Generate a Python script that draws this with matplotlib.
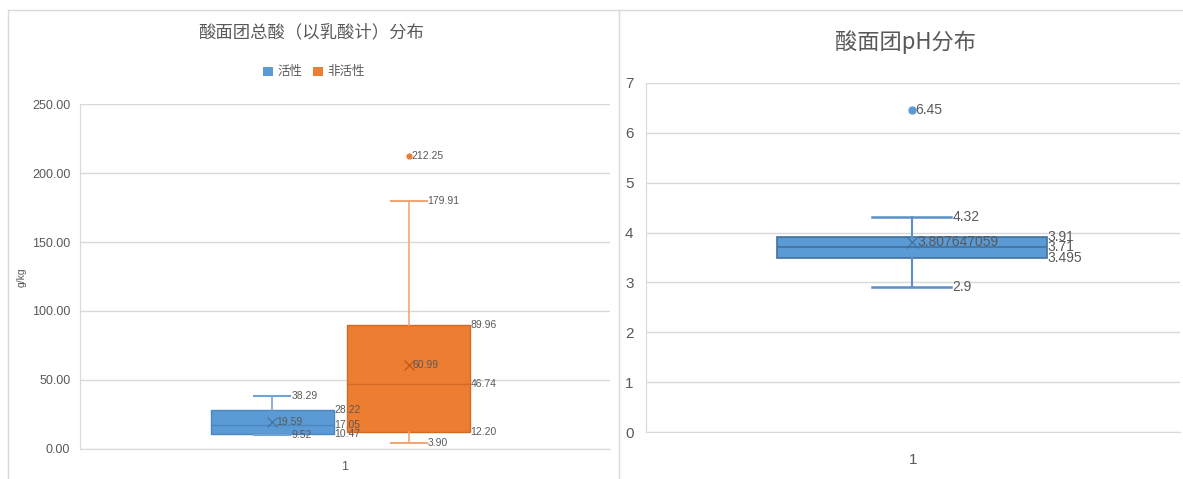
import matplotlib
matplotlib.use("Agg")
import matplotlib.pyplot as plt
from matplotlib.patches import Patch
from matplotlib.lines import Line2D
from matplotlib import font_manager

W, H = 1183, 479

# ======================================
# DATA
# ======================================
groups = ["活性", "非活性"]
acid_min = [9.52, 3.90]
acid_q1 = [10.47, 12.20]
acid_med = [17.05, 46.74]
acid_q3 = [28.22, 89.96]
acid_max = [38.29, 179.91]
acid_mean = [19.59, 60.99]
acid_fliers = [[], [212.25]]

ph_min = 2.9
ph_q1 = 3.495
ph_med = 3.71
ph_q3 = 3.91
ph_max = 4.32
ph_mean = 3.807647059
ph_fliers = [6.45]

acid_ticks = [0, 50, 100, 150, 200, 250]
ph_ticks = [0, 1, 2, 3, 4, 5, 6, 7]
cat_label = "1"

# ======================================
# STYLE
# ======================================
names = {f.name for f in font_manager.fontManager.ttflist}
num_font = "Liberation Sans Narrow" if "Liberation Sans Narrow" in names else "Liberation Sans"
FONT = [num_font, "Noto Sans CJK SC", "DejaVu Sans"]
CJK = ["Noto Sans CJK SC", "DejaVu Sans"]
plt.rcParams["font.family"] = FONT

TXT = "#595959"
GRID = "#D9D9D9"
fills = ["#5B9BD5", "#ED7D31"]
edges = ["#4A86C0", "#D06A24"]
whisk = ["#6FA4D8", "#F2A678"]
means = ["#41719C", "#B5561A"]
LFS = 7.5    # data label size, left panel
RFS = 10     # data label size, right panel

fig = plt.figure(figsize=(W / 100, H / 100), dpi=100)


def px_axes(x0, y0, x1, y1):
    return fig.add_axes([x0 / W, 1 - y1 / H, (x1 - x0) / W, (y1 - y0) / H])


def style_axes(ax, ticks, fmt, fs):
    ax.set_ylim(ticks[0], ticks[-1])
    ax.set_yticks(ticks)
    ax.set_yticklabels([fmt(t) for t in ticks])
    ax.set_xlim(0.5, 1.5)
    ax.set_xticks([1])
    ax.set_xticklabels([cat_label])
    ax.grid(axis="y", color=GRID, linewidth=1)
    ax.set_axisbelow(True)
    for s in ["top", "right"]:
        ax.spines[s].set_visible(False)
    for s in ["left", "bottom"]:
        ax.spines[s].set_color(GRID)
    ax.tick_params(length=0, colors=TXT, labelsize=fs)


def label(ax, text, x, y, dx, fs):
    ax.annotate(text, xy=(x, y), xytext=(dx * 0.72, 0), textcoords="offset points",
                ha="left", va="center", fontsize=fs, color=TXT)


# ======================================
# LEFT PANEL: total acid
# ======================================
ax1 = px_axes(80, 104.5, 610, 448.5)
style_axes(ax1, acid_ticks, lambda t: f"{t:.2f}", 9)
ax1.tick_params(axis="y", pad=7)
ax1.tick_params(axis="x", pad=9)

pos1 = [0.863, 1.120]
w1 = 0.232
cap1 = 0.068
for i in range(len(groups)):
    st = [dict(whislo=acid_min[i], q1=acid_q1[i], med=acid_med[i], q3=acid_q3[i],
               whishi=acid_max[i], mean=acid_mean[i], fliers=acid_fliers[i])]
    ax1.bxp(st, positions=[pos1[i]], widths=w1, capwidths=cap1, patch_artist=True,
            showmeans=True, manage_ticks=False,
            boxprops=dict(facecolor=fills[i], edgecolor=edges[i], linewidth=1),
            medianprops=dict(color=edges[i], linewidth=1),
            whiskerprops=dict(color=whisk[i], linewidth=1.2),
            capprops=dict(color=whisk[i], linewidth=1.5),
            meanprops=dict(marker="x", markeredgecolor=means[i], markersize=7,
                           markeredgewidth=0.8),
            flierprops=dict(marker="o", markerfacecolor=fills[i], markeredgecolor=fills[i],
                            markersize=3.5))
    p = pos1[i]
    label(ax1, f"{acid_max[i]:.2f}", p + cap1 / 2, acid_max[i], 1, LFS)
    label(ax1, f"{acid_min[i]:.2f}", p + cap1 / 2, acid_min[i], 1, LFS)
    label(ax1, f"{acid_q3[i]:.2f}", p + w1 / 2, acid_q3[i], 0.5, LFS)
    label(ax1, f"{acid_med[i]:.2f}", p + w1 / 2, acid_med[i], 0.5, LFS)
    label(ax1, f"{acid_q1[i]:.2f}", p + w1 / 2, acid_q1[i], 0.5, LFS)
    label(ax1, f"{acid_mean[i]:.2f}", p, acid_mean[i], 4, LFS)
    for f in acid_fliers[i]:
        label(ax1, f"{f:.2f}", p, f, 3, LFS)

fig.text(311 / W, 1 - 32 / H, "酸面团总酸（以乳酸计）分布", ha="center", va="center",
         fontsize=12.5, color=TXT, family=CJK)
fig.text(22 / W, 1 - 277 / H, "g/kg", ha="center", va="center", rotation=90,
         fontsize=7.5, color=TXT)
handles = [Patch(facecolor=fills[i], edgecolor="none") for i in range(len(groups))]
leg = fig.legend(handles, groups, loc="center", bbox_to_anchor=(314 / W, 1 - 72 / H),
                 ncol=2, frameon=False, handlelength=0.75, handleheight=0.75,
                 columnspacing=0.9, handletextpad=0.35, prop=dict(family=CJK, size=9))
for t in leg.get_texts():
    t.set_color(TXT)

# ======================================
# RIGHT PANEL: pH
# ======================================
ax2 = px_axes(646, 83, 1180, 432)
style_axes(ax2, ph_ticks, lambda t: f"{t}", 11)
ax2.tick_params(axis="y", pad=9)
ax2.tick_params(axis="x", pad=15)

p2 = 0.998
w2 = 0.506
cap2 = 0.148
st2 = [dict(whislo=ph_min, q1=ph_q1, med=ph_med, q3=ph_q3, whishi=ph_max,
            mean=ph_mean, fliers=ph_fliers)]
ax2.bxp(st2, positions=[p2], widths=w2, capwidths=cap2, patch_artist=True,
        showmeans=True, manage_ticks=False,
        boxprops=dict(facecolor=fills[0], edgecolor="#41719C", linewidth=1.2),
        medianprops=dict(color="#41719C", linewidth=1.2),
        whiskerprops=dict(color="#5B8FC7", linewidth=1.5),
        capprops=dict(color="#5B8FC7", linewidth=1.8),
        meanprops=dict(marker="x", markeredgecolor="#41719C", markersize=9,
                       markeredgewidth=0.9),
        flierprops=dict(marker="o", markerfacecolor=fills[0], markeredgecolor=fills[0],
                        markersize=5))
label(ax2, str(ph_max), p2 + cap2 / 2, ph_max, 1, RFS)
label(ax2, str(ph_min), p2 + cap2 / 2, ph_min, 1, RFS)
label(ax2, str(ph_q3), p2 + w2 / 2, ph_q3, 0.5, RFS)
label(ax2, str(ph_med), p2 + w2 / 2, ph_med, 0.5, RFS)
label(ax2, str(ph_q1), p2 + w2 / 2, ph_q1, 0.5, RFS)
label(ax2, str(ph_mean), p2, ph_mean, 5, RFS)
for f in ph_fliers:
    label(ax2, str(f), p2, f, 3, RFS)

fig.text(905 / W, 1 - 42 / H, "酸面团pH分布", ha="center", va="center",
         fontsize=16, color=TXT, family=CJK)

# ======================================
# PANEL BORDERS
# ======================================
for xs, ys in [((8, 1183), (10, 10)), ((8, 8), (10, 479)), ((619, 619), (10, 479))]:
    fig.add_artist(Line2D([x / W for x in xs], [1 - y / H for y in ys],
                          transform=fig.transFigure, color=GRID, linewidth=1))

fig.savefig("out.png", dpi=100, facecolor="white")
